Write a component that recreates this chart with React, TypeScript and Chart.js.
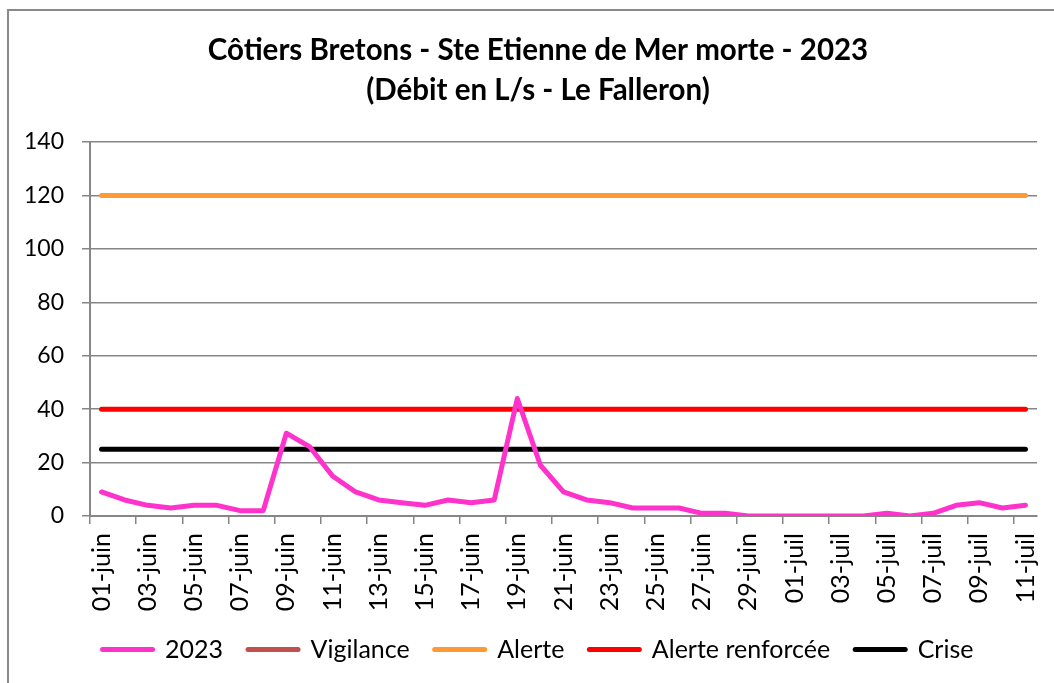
import React, { useEffect, useRef } from "react";
import { Chart, registerables } from "chart.js";

Chart.register(...registerables);

const TITLE_LINES = [
  "Côtiers Bretons - Ste Etienne de Mer morte - 2023",
  "(Débit en L/s - Le Falleron)",
];

const DATES = [
  "01-juin", "02-juin", "03-juin", "04-juin", "05-juin", "06-juin", "07-juin", "08-juin", "09-juin", "10-juin",
  "11-juin", "12-juin", "13-juin", "14-juin", "15-juin", "16-juin", "17-juin", "18-juin", "19-juin", "20-juin",
  "21-juin", "22-juin", "23-juin", "24-juin", "25-juin", "26-juin", "27-juin", "28-juin", "29-juin", "30-juin",
  "01-juil", "02-juil", "03-juil", "04-juil", "05-juil", "06-juil", "07-juil", "08-juil", "09-juil", "10-juil",
  "11-juil",
];

const DEBIT_2023 = [
  9, 6, 4, 3, 4, 4, 2, 2, 31, 26,
  15, 9, 6, 5, 4, 6, 5, 6, 44, 19,
  9, 6, 5, 3, 3, 3, 1, 1, 0, 0,
  0, 0, 0, 0, 1, 0, 1, 4, 5, 3,
  4,
];

const VIGILANCE: (number | null)[] = [];
const SEUIL_ALERTE = 120;
const SEUIL_ALERTE_RENFORCEE = 40;
const SEUIL_CRISE = 25;

const Y_MIN = 0;
const Y_MAX = 140;
const Y_STEP = 20;

const FONT = "Lato, 'Open Sans', sans-serif";

export default function App() {
  const ref = useRef<HTMLCanvasElement>(null);

  useEffect(() => {
    document.body.style.overflow = "hidden";
    const flat = (v: number) => DATES.map(() => v);
    const line = (label: string, data: (number | null)[], color: string) => ({
      label,
      data,
      borderColor: color,
      backgroundColor: color,
      borderWidth: 5,
      borderCapStyle: "round" as const,
      borderJoinStyle: "round" as const,
      pointRadius: 0,
      pointHoverRadius: 0,
      tension: 0,
      fill: false,
      yAxisID: "y",
    });

    const chart = new Chart(ref.current!, {
      type: "line",
      data: {
        labels: DATES,
        datasets: [
          line("2023", DEBIT_2023, "#FF33CC"),
          line("Vigilance", VIGILANCE, "#C0504D"),
          line("Alerte", flat(SEUIL_ALERTE), "#FF9933"),
          line("Alerte renforcée", flat(SEUIL_ALERTE_RENFORCEE), "#FF0000"),
          line("Crise", flat(SEUIL_CRISE), "#000000"),
        ],
      },
      options: {
        animation: false,
        responsive: true,
        maintainAspectRatio: false,
        layout: { padding: 0 },
        plugins: {
          tooltip: { enabled: false },
          title: {
            display: true,
            text: TITLE_LINES,
            color: "#000",
            font: { family: FONT, size: 29.5, weight: "bold", lineHeight: 1.356 },
            padding: { top: 19, bottom: 32 },
          },
          legend: {
            display: true,
            position: "bottom",
            labels: {
              color: "#000",
              font: { family: FONT, size: 25 },
              usePointStyle: true,
              pointStyle: "line",
              pointStyleWidth: 50,
              boxHeight: 22,
              padding: 25,
              generateLabels: (c: any) =>
                c.data.datasets.map((ds: any, i: number) => ({
                  text: ds.label,
                  fillStyle: ds.borderColor,
                  strokeStyle: ds.borderColor,
                  lineWidth: 5,
                  lineCap: "round",
                  pointStyle: "line",
                  fontColor: "#000",
                  hidden: false,
                  datasetIndex: i,
                })),
            },
          },
        },
        scales: {
          x: {
            type: "category",
            offset: true,
            afterFit: (s: any) => {
              s.height = 96;
            },
            grid: {
              display: true,
              drawOnChartArea: false,
              drawTicks: true,
              tickLength: 8,
              offset: true,
              lineWidth: 1.5,
              color: (ctx: any) => (ctx.index % 2 === 0 ? "#868686" : "rgba(0,0,0,0)"),
            },
            border: { display: true, color: "#868686", width: 2 },
            ticks: {
              autoSkip: false,
              maxRotation: 90,
              minRotation: 90,
              padding: 9,
              color: "#000",
              font: { family: FONT, size: 25 },
              callback: (_v: any, i: number) => (i % 2 === 0 ? DATES[i] : ""),
            },
          },
          y: {
            min: Y_MIN,
            max: Y_MAX,
            afterFit: (s: any) => {
              s.width = 81;
            },
            grid: {
              color: "#868686",
              lineWidth: 1.5,
              tickLength: 8,
              drawTicks: true,
            },
            border: { display: true, color: "#868686", width: 2 },
            ticks: {
              stepSize: Y_STEP,
              padding: 18,
              color: "#000",
              font: { family: FONT, size: 23 },
            },
          },
          yRightSpace: {
            position: "right",
            display: true,
            min: Y_MIN,
            max: Y_MAX,
            afterFit: (s: any) => {
              s.width = 30;
            },
            grid: { display: false, drawTicks: false },
            border: { display: false },
            ticks: { display: false },
          },
        },
      },
    });
    return () => chart.destroy();
  }, []);

  return (
    <div
      style={{
        position: "fixed",
        left: 0,
        top: 0,
        width: 1054,
        height: 683,
        overflow: "hidden",
        background: "#fff",
      }}
    >
      <div
        style={{
          position: "absolute",
          left: 7,
          top: 9,
          width: 1062,
          height: 740,
          border: "2px solid #898989",
          background: "#fff",
        }}
      >
        <div style={{ position: "relative", width: 1058, height: 661 }}>
          <canvas ref={ref} />
        </div>
      </div>
    </div>
  );
}
